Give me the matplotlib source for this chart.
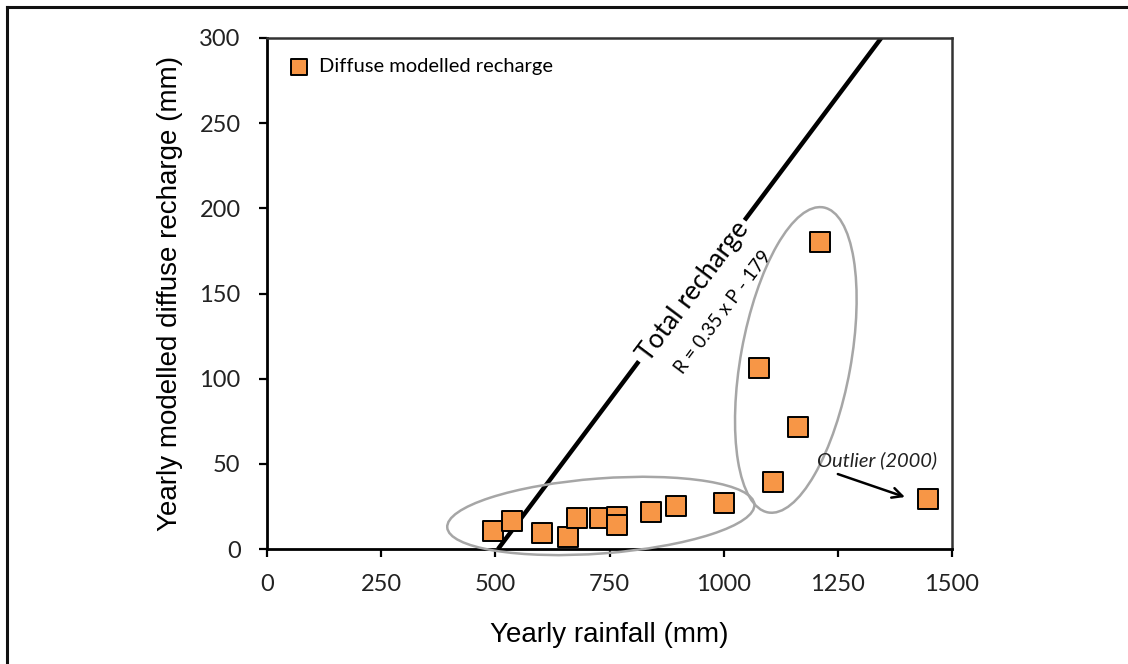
import matplotlib
matplotlib.use("Agg")
import matplotlib.pyplot as plt
from matplotlib.patches import Ellipse
from matplotlib.transforms import IdentityTransform, ScaledTranslation
from matplotlib.lines import Line2D

# ---- data ----
rainfall = [495, 536, 602, 659, 678, 729, 766, 767, 841, 895, 1000,
            1077, 1108, 1163, 1211, 1447]
recharge = [10.6, 16.4, 9.4, 7.0, 18.0, 18.4, 19.0, 14.0, 21.5, 25.0, 27.0,
            106.0, 39.3, 71.6, 180.0, 29.3]
line_p = [506, 1345]
line_r = [0, 300]
xticks = [0, 250, 500, 750, 1000, 1250, 1500]
yticks = [0, 50, 100, 150, 200, 250, 300]

ORANGE = "#F79646"
TICKFONT = "Lato"

fig = plt.figure(figsize=(11.28, 6.64), dpi=100)
ax = fig.add_axes([267/1128, 1-549/664, (952-267)/1128, (549-38)/664])

ax.set_xlim(0, 1500)
ax.set_ylim(0, 300)

# total recharge line
ax.plot(line_p, line_r, color="black", lw=3.2, solid_capstyle="butt", zorder=2)

# ellipses in pixel units centred on data coords
def pix_ellipse(cx, cy, w, h, ang):
    tr = IdentityTransform() + ScaledTranslation(cx, cy, ax.transData)
    e = Ellipse((0, 0), w, h, angle=ang, transform=tr, fill=False,
                edgecolor="#A6A6A6", lw=1.8, zorder=3, clip_on=False)
    ax.add_patch(e)

pix_ellipse(731, 19.4, 308, 75, 4.3)
pix_ellipse(1158, 111, 110, 310, -10.3)

# data points
ax.scatter(rainfall, recharge, marker="s", s=205, facecolor=ORANGE,
           edgecolor="black", linewidths=1.4, zorder=4, clip_on=False,
           label="Diffuse modelled recharge")

# texts
ax.text(933, 151, "Total recharge", rotation=53.1, rotation_mode="anchor",
        ha="center", va="center", fontsize=19, family=TICKFONT, color="black",
        bbox=dict(facecolor="white", edgecolor="none", pad=3), zorder=3)
ax.text(1000, 139, "R = 0.35 x P - 179", rotation=53.1, rotation_mode="anchor",
        ha="center", va="center", fontsize=13.5, family=TICKFONT, color="black",
        zorder=3)

ax.text(1336, 52, "Outlier (2000)", ha="center", va="center", fontsize=14.5,
        family=TICKFONT, style="italic", color="#222222")
ax.annotate("", xy=(1397, 30.5), xytext=(1250, 44),
            arrowprops=dict(arrowstyle="->", color="black", lw=1.8,
                            shrinkA=0, shrinkB=0, mutation_scale=18))

# axes styling
for side in ["top", "right"]:
    ax.spines[side].set_color("#333333")
    ax.spines[side].set_linewidth(1.8)
for side in ["left", "bottom"]:
    ax.spines[side].set_color("black")
    ax.spines[side].set_linewidth(2.0)

ax.set_xticks(xticks)
ax.set_yticks(yticks)
ax.tick_params(axis="both", direction="out", length=6, width=1.6,
               labelsize=17, colors="black")
ax.tick_params(axis="y", pad=13)
ax.tick_params(axis="x", pad=12)
for lab in ax.get_xticklabels() + ax.get_yticklabels():
    lab.set_family(TICKFONT)
    lab.set_color("#222222")

ax.set_xlabel("Yearly rainfall (mm)", fontsize=20, family="Liberation Sans")
ax.set_ylabel("Yearly modelled diffuse recharge (mm)", fontsize=20,
              family="Liberation Sans")
ax.xaxis.set_label_coords(0.5, -0.143)
ax.yaxis.set_label_coords(-0.123, 0.5)

leg = ax.legend(loc="upper left", bbox_to_anchor=(0.0, 0.985), frameon=False,
                markerscale=0.8, handletextpad=0.0, borderaxespad=0.2,
                prop={"family": TICKFONT, "size": 14.5})

# outer frame (top and left visible)
fig.add_artist(Line2D([7/1128, 7/1128], [0, 1-7/664], color="#111111",
                      lw=2.2, transform=fig.transFigure))
fig.add_artist(Line2D([7/1128, 1], [1-7/664, 1-7/664], color="#111111",
                      lw=2.2, transform=fig.transFigure))

fig.savefig("out.png", dpi=100)
